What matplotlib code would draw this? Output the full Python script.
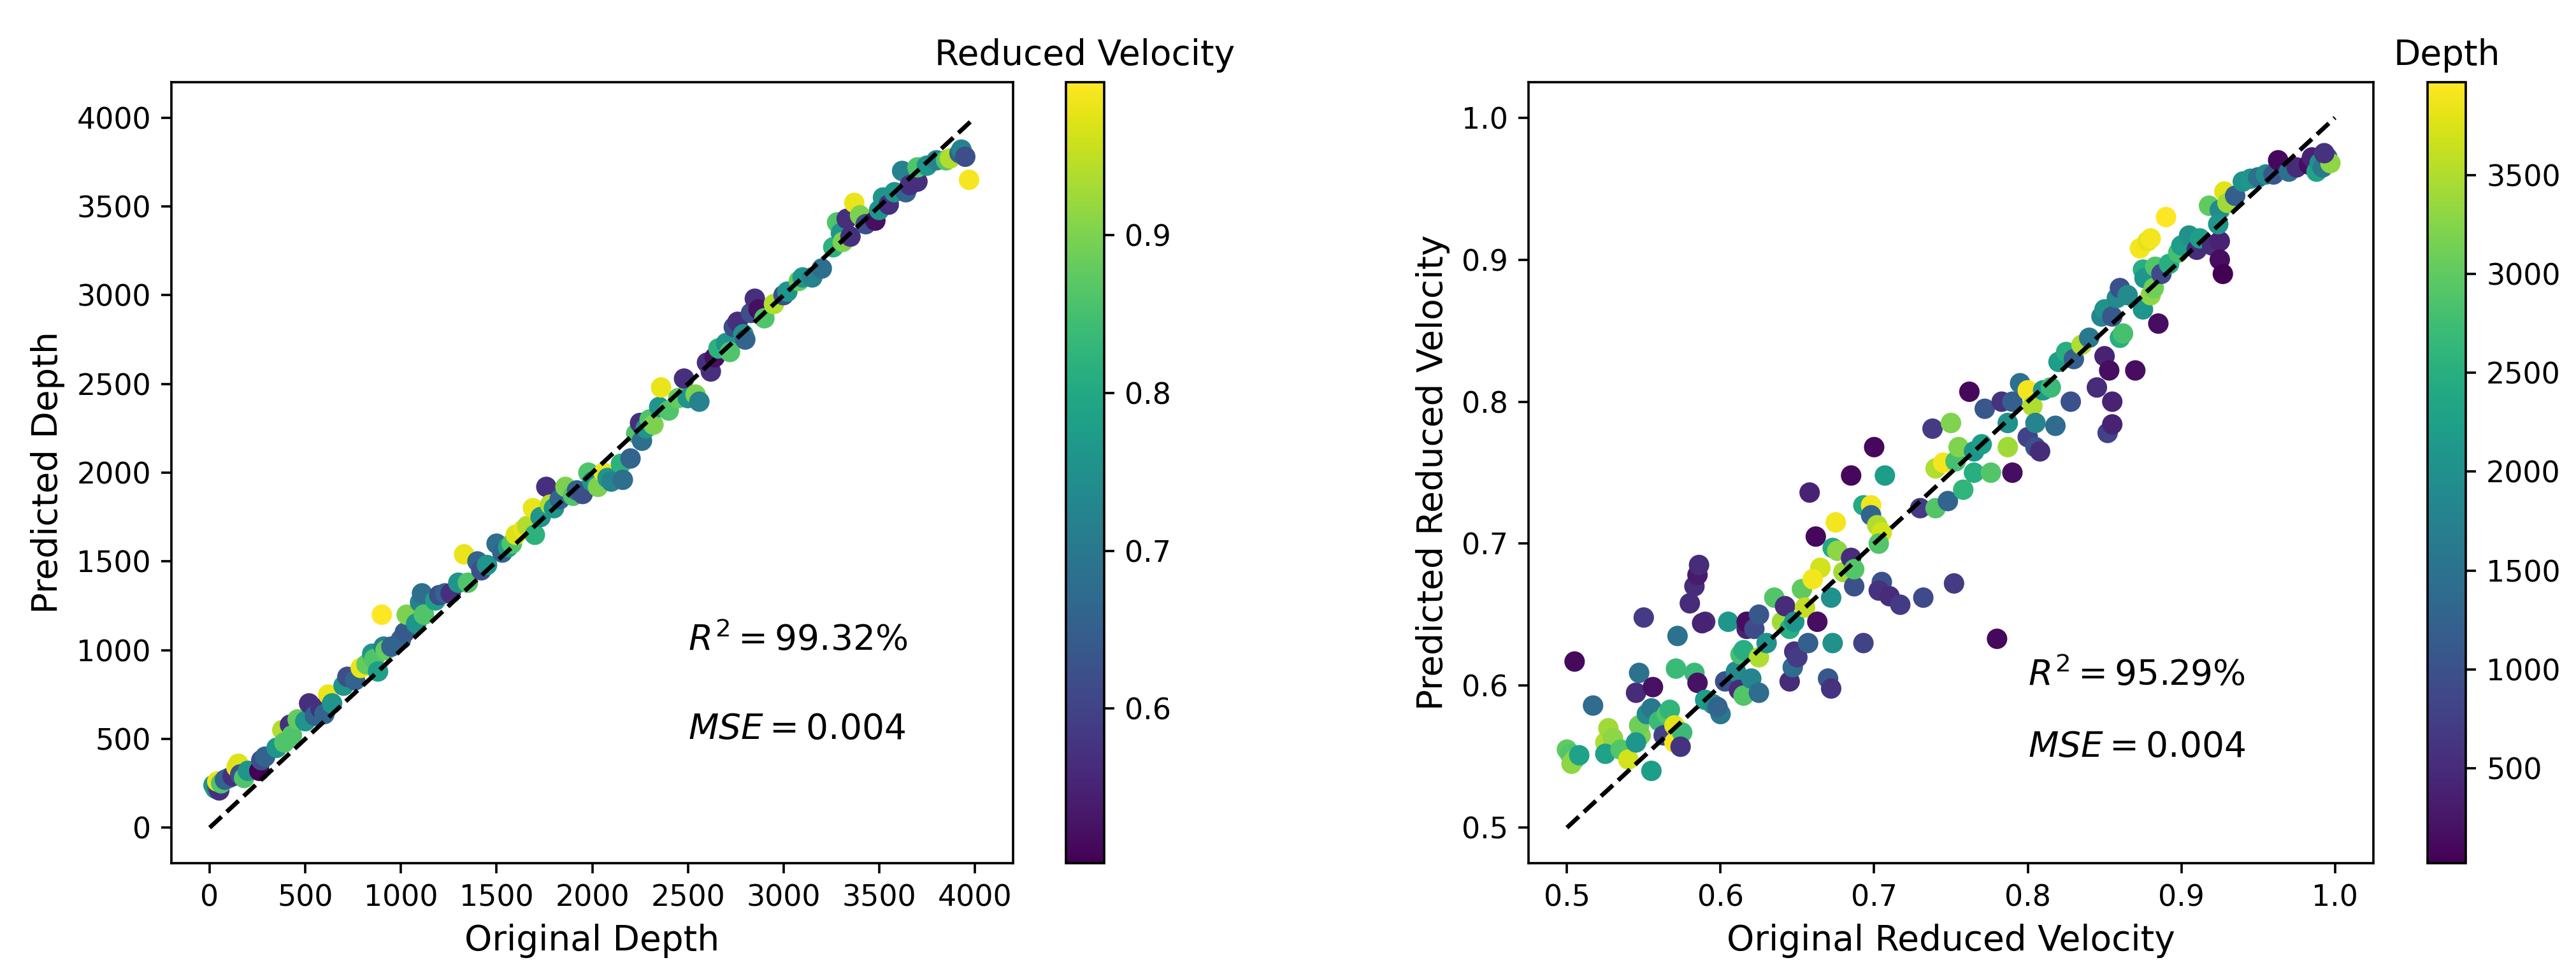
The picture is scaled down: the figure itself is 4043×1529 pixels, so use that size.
import matplotlib
matplotlib.use('Agg')
import matplotlib.pyplot as plt
import numpy as np

# Panel izquierdo: profundidad original vs predicha, color = velocidad reducida
depth_orig = [20, 30, 40, 50, 40, 60, 80, 100, 120, 140, 150, 160, 180, 200, 260, 270, 290, 350, 380, 390,
              420, 430, 460, 500, 520, 550, 580, 600, 620, 640, 700, 720, 760, 790, 820, 850, 860, 880, 900, 910,
              920, 950, 1000, 1020, 1030, 1080, 1100, 1110, 1120, 1180, 1200, 1230, 1260, 1300, 1330, 1350, 1400, 1420, 1450, 1500,
              1530, 1560, 1580, 1600, 1640, 1660, 1690, 1700, 1730, 1760, 1780, 1800, 1830, 1860, 1900, 1920, 1950, 1980, 2000, 2030,
              2060, 2080, 2100, 2150, 2160, 2200, 2230, 2250, 2260, 2280, 2300, 2320, 2350, 2360, 2400, 2450, 2480, 2500, 2540, 2560,
              2600, 2620, 2640, 2660, 2700, 2720, 2740, 2760, 2790, 2800, 2830, 2850, 2870, 2900, 2950, 3000, 3020, 3080, 3100, 3150,
              3200, 3260, 3280, 3300, 3310, 3330, 3350, 3370, 3400, 3430, 3480, 3500, 3520, 3550, 3580, 3620, 3640, 3660, 3700, 3700,
              3750, 3800, 3850, 3870, 3920, 3930, 3950, 3970]
depth_pred = [240, 220, 230, 210, 260, 250, 270, 280, 290, 340, 360, 300, 280, 320, 320, 380, 400, 450, 550, 480,
              580, 520, 610, 600, 700, 630, 670, 640, 750, 700, 800, 850, 830, 900, 920, 980, 950, 880, 1200, 1020,
              1000, 1020, 1060, 1100, 1200, 1150, 1270, 1320, 1200, 1280, 1310, 1320, 1320, 1380, 1540, 1380, 1500, 1450, 1480, 1600,
              1550, 1580, 1600, 1650, 1680, 1700, 1800, 1650, 1750, 1920, 1820, 1800, 1850, 1920, 1870, 1900, 1880, 2000, 1950, 1920,
              2000, 1970, 1950, 2050, 1960, 2080, 2220, 2280, 2180, 2250, 2300, 2270, 2370, 2480, 2350, 2420, 2530, 2420, 2440, 2400,
              2620, 2570, 2650, 2700, 2730, 2680, 2820, 2850, 2780, 2750, 2900, 2980, 2920, 2870, 2950, 3000, 3020, 3080, 3100, 3100,
              3150, 3270, 3410, 3350, 3300, 3430, 3330, 3520, 3450, 3400, 3420, 3480, 3550, 3510, 3580, 3700, 3580, 3620, 3640, 3720,
              3730, 3760, 3760, 3770, 3800, 3820, 3780, 3650]
rv_color = [0.76, 0.76, 0.66, 0.57, 0.98, 0.86, 0.66, 0.66, 0.57, 0.98, 0.97, 0.62, 0.86, 0.76, 0.502, 0.62, 0.66, 0.76, 0.94, 0.86,
            0.57, 0.86, 0.88, 0.76, 0.57, 0.66, 0.57, 0.66, 0.98, 0.76, 0.76, 0.62, 0.66, 0.98, 0.88, 0.76, 0.86, 0.78, 0.997, 0.72,
            0.88, 0.66, 0.66, 0.64, 0.90, 0.76, 0.72, 0.68, 0.86, 0.78, 0.62, 0.66, 0.57, 0.76, 0.98, 0.86, 0.66, 0.62, 0.76, 0.68,
            0.66, 0.78, 0.86, 0.97, 0.98, 0.94, 0.98, 0.82, 0.76, 0.57, 0.94, 0.76, 0.66, 0.90, 0.86, 0.66, 0.62, 0.86, 0.76, 0.90,
            0.98, 0.76, 0.72, 0.82, 0.68, 0.66, 0.86, 0.57, 0.68, 0.76, 0.86, 0.90, 0.76, 0.98, 0.86, 0.88, 0.57, 0.76, 0.90, 0.72,
            0.57, 0.57, 0.52, 0.82, 0.76, 0.86, 0.62, 0.57, 0.76, 0.66, 0.62, 0.57, 0.52, 0.86, 0.94, 0.62, 0.76, 0.88, 0.76, 0.72,
            0.68, 0.82, 0.86, 0.76, 0.90, 0.57, 0.57, 0.98, 0.90, 0.62, 0.52, 0.76, 0.76, 0.57, 0.76, 0.72, 0.66, 0.57, 0.57, 0.86,
            0.76, 0.72, 0.86, 0.94, 0.66, 0.72, 0.62, 0.99]

# Panel derecho: velocidad reducida original vs predicha, color = profundidad
rv_orig = [0.505, 0.500, 0.502, 0.505, 0.503, 0.508, 0.517, 0.525, 0.527, 0.530, 0.525, 0.535, 0.540, 0.545, 0.547, 0.550,
           0.548, 0.547, 0.545, 0.552, 0.555, 0.556, 0.555, 0.560, 0.565, 0.567, 0.563, 0.570, 0.570, 0.572, 0.571, 0.575,
           0.574, 0.580, 0.583, 0.585, 0.586, 0.583, 0.585, 0.590, 0.588, 0.590, 0.595, 0.600, 0.598, 0.603, 0.605, 0.610,
           0.613, 0.615, 0.612, 0.615, 0.617, 0.617, 0.620, 0.622, 0.625, 0.625, 0.625, 0.630, 0.635, 0.640, 0.642, 0.645,
           0.645, 0.648, 0.647, 0.650, 0.648, 0.653, 0.655, 0.658, 0.657, 0.662, 0.665, 0.660, 0.663, 0.670, 0.672, 0.672,
           0.673, 0.675, 0.673, 0.676, 0.680, 0.685, 0.685, 0.687, 0.687, 0.693, 0.693, 0.700, 0.698, 0.698, 0.702, 0.705,
           0.703, 0.705, 0.703, 0.707, 0.710, 0.717, 0.730, 0.732, 0.738, 0.740, 0.740, 0.745, 0.750, 0.748, 0.752, 0.753,
           0.755, 0.758, 0.762, 0.765, 0.765, 0.772, 0.770, 0.776, 0.780, 0.783, 0.787, 0.787, 0.790, 0.790, 0.795, 0.800,
           0.803, 0.800, 0.805, 0.808, 0.805, 0.810, 0.815, 0.818, 0.820, 0.825, 0.828, 0.830, 0.835, 0.840, 0.845, 0.848,
           0.850, 0.850, 0.852, 0.855, 0.853, 0.855, 0.855, 0.858, 0.860, 0.860, 0.862, 0.865, 0.870, 0.873, 0.875, 0.876,
           0.878, 0.880, 0.875, 0.880, 0.882, 0.883, 0.885, 0.887, 0.890, 0.892, 0.898, 0.900, 0.905, 0.910, 0.912, 0.918,
           0.920, 0.925, 0.925, 0.927, 0.925, 0.924, 0.928, 0.930, 0.935, 0.940, 0.945, 0.950, 0.955, 0.960, 0.963, 0.970,
           0.975, 0.983, 0.985, 0.988, 0.990, 0.992, 0.995, 0.997, 0.993]
rv_pred = [0.617, 0.555, 0.552, 0.548, 0.545, 0.551, 0.586, 0.560, 0.570, 0.563, 0.552, 0.555, 0.548, 0.595, 0.609, 0.648,
           0.565, 0.572, 0.560, 0.580, 0.584, 0.599, 0.540, 0.575, 0.580, 0.583, 0.565, 0.572, 0.560, 0.635, 0.612, 0.567,
           0.557, 0.658, 0.670, 0.678, 0.685, 0.609, 0.602, 0.645, 0.644, 0.590, 0.587, 0.580, 0.585, 0.603, 0.645, 0.610,
           0.622, 0.625, 0.597, 0.593, 0.640, 0.645, 0.605, 0.640, 0.650, 0.620, 0.595, 0.630, 0.662, 0.645, 0.656, 0.640,
           0.603, 0.624, 0.613, 0.620, 0.645, 0.668, 0.655, 0.736, 0.630, 0.705, 0.683, 0.675, 0.645, 0.605, 0.598, 0.662,
           0.630, 0.715, 0.697, 0.695, 0.680, 0.748, 0.690, 0.670, 0.682, 0.630, 0.727, 0.768, 0.727, 0.720, 0.713, 0.708,
           0.700, 0.673, 0.667, 0.748, 0.663, 0.657, 0.725, 0.662, 0.781, 0.753, 0.725, 0.757, 0.785, 0.730, 0.672, 0.758,
           0.768, 0.738, 0.807, 0.765, 0.750, 0.795, 0.770, 0.750, 0.633, 0.800, 0.768, 0.785, 0.800, 0.750, 0.813, 0.808,
           0.797, 0.775, 0.768, 0.765, 0.785, 0.808, 0.810, 0.783, 0.828, 0.835, 0.800, 0.830, 0.840, 0.845, 0.810, 0.860,
           0.865, 0.832, 0.778, 0.784, 0.822, 0.800, 0.860, 0.873, 0.880, 0.845, 0.848, 0.875, 0.822, 0.908, 0.893, 0.887,
           0.913, 0.915, 0.865, 0.875, 0.880, 0.895, 0.855, 0.890, 0.930, 0.897, 0.905, 0.910, 0.917, 0.907, 0.915, 0.938,
           0.910, 0.913, 0.900, 0.890, 0.935, 0.925, 0.948, 0.940, 0.945, 0.955, 0.957, 0.958, 0.960, 0.960, 0.970, 0.962,
           0.965, 0.967, 0.972, 0.962, 0.968, 0.965, 0.972, 0.968, 0.975]
depth_color = [120, 3000, 2900, 3200, 3300, 2300, 1400, 3500, 3400, 3300, 2300, 2900, 3700, 500, 1500, 700,
               3200, 3100, 2100, 1900, 1600, 200, 2200, 2700, 2900, 2600, 800, 3800, 3900, 1500, 2700, 2700,
               600, 500, 500, 300, 500, 2700, 200, 500, 400, 2200, 2000, 1600, 1300, 1000, 2100, 1900,
               2800, 2500, 500, 2900, 400, 150, 1800, 900, 1100, 3500, 1400, 2000, 2900, 3400, 500, 2500,
               500, 600, 1400, 700, 2100, 3000, 3600, 400, 1200, 100, 3700, 3900, 150, 1100, 600, 2000,
               2000, 3900, 2400, 3300, 3400, 100, 500, 1000, 2900, 800, 2400, 100, 3900, 1300, 3500, 3700,
               2900, 1000, 600, 2200, 500, 700, 700, 900, 700, 3500, 2900, 3900, 3200, 1300, 700, 2800,
               3200, 2600, 100, 2100, 2500, 1100, 2200, 2900, 100, 600, 3400, 2000, 1200, 150, 1500, 3900,
               3500, 800, 1000, 500, 1800, 2100, 2700, 1400, 2200, 2500, 1000, 1200, 3500, 1600, 500, 1800,
               2000, 400, 800, 400, 150, 400, 1100, 1900, 1000, 2500, 2800, 1900, 150, 3900, 2500, 2100,
               3800, 3900, 2100, 3300, 3100, 2900, 150, 900, 3970, 2500, 2800, 2200, 2000, 500, 2200, 3000,
               500, 400, 150, 20, 1900, 2100, 3800, 3400, 1200, 2000, 2100, 1500, 1900, 1100, 100, 1500,
               500, 150, 400, 2300, 2000, 1600, 1000, 3300, 600]

W, H, DPI = 4043, 1529, 330
fig = plt.figure(figsize=(W / DPI, H / DPI), dpi=DPI)

# posiciones de los ejes (fracciones de la figura)
ax1 = fig.add_axes([269 / W, 174 / H, 1321 / W, 1226 / H])
cax1 = fig.add_axes([1673 / W, 174 / H, 60 / W, 1226 / H])
ax2 = fig.add_axes([2399 / W, 174 / H, 1326 / W, 1226 / H])
cax2 = fig.add_axes([3810 / W, 174 / H, 60 / W, 1226 / H])

# panel izquierdo
sc1 = ax1.scatter(depth_orig, depth_pred, c=rv_color, cmap='viridis')
ax1.plot([0, 4000], [0, 4000], 'k--')
ax1.set_xlabel('Original Depth', fontsize=12)
ax1.set_ylabel('Predicted Depth', fontsize=12)
ax1.text(2500, 1000, r'$R^2 = 99.32\%$', fontsize=12)
ax1.text(2500, 500, r'$MSE = 0.004$', fontsize=12)
cb1 = fig.colorbar(sc1, cax=cax1)
cb1.ax.set_title('Reduced Velocity', fontsize=12)

# panel derecho
sc2 = ax2.scatter(rv_orig, rv_pred, c=depth_color, cmap='viridis')
ax2.plot([0.5, 1.0], [0.5, 1.0], 'k--')
ax2.set_xlabel('Original Reduced Velocity', fontsize=12)
ax2.set_ylabel('Predicted Reduced Velocity', fontsize=12)
ax2.text(0.8, 0.6, r'$R^2 = 95.29\%$', fontsize=12)
ax2.text(0.8, 0.55, r'$MSE = 0.004$', fontsize=12)
cb2 = fig.colorbar(sc2, cax=cax2)
cb2.ax.set_title('Depth', fontsize=12)

fig.savefig('out.png', dpi=DPI)
